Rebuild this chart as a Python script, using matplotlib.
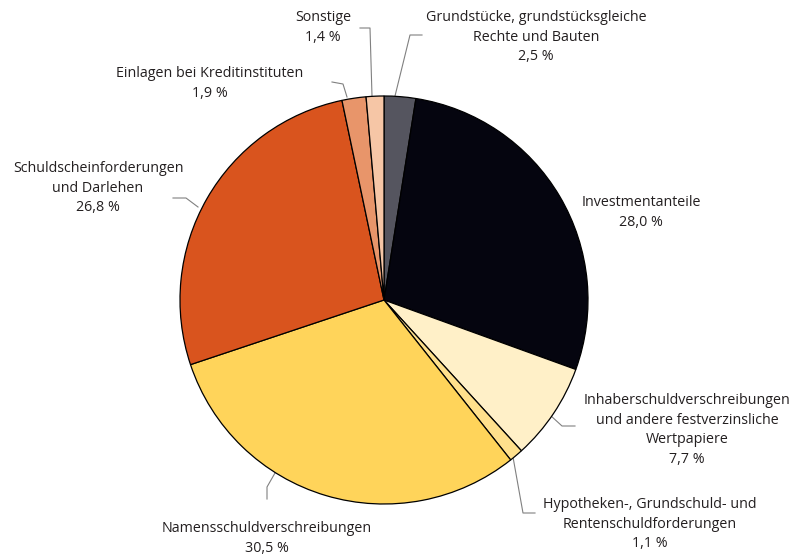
import matplotlib.pyplot as plt

plt.rcParams['font.family'] = ['Open Sans', 'DejaVu Sans']

# Anteile der Kapitalanlagen (%)
labels = ['Grundstücke, grundstücksgleiche\nRechte und Bauten',
          'Investmentanteile',
          'Inhaberschuldverschreibungen\nund andere festverzinsliche\nWertpapiere',
          'Hypotheken-, Grundschuld- und\nRentenschuldforderungen',
          'Namensschuldverschreibungen',
          'Schuldscheinforderungen\nund Darlehen',
          'Einlagen bei Kreditinstituten',
          'Sonstige']
values = [2.5, 28.0, 7.7, 1.1, 30.5, 26.8, 1.9, 1.4]
colors = ['#55555f', '#05050f', '#fff0c8', '#ffe08c', '#ffd45a', '#d9541e', '#e8956a', '#f6c6a6']

W, H = 798, 555
cx, cy, r = 384, 300, 204

# Textposition (Mitte der ersten Zeile) und Hinweislinien, in Pixeln
text_pos = [(536, 17), (641, 202), (687, 400), (650, 504), (267, 528), (98, 168), (210, 73), (323, 17)]
leaders = [[(422, 35), (410, 35), (395, 96)],
           None,
           [(575, 426), (562, 426), (550, 415)],
           [(535, 513), (523, 513), (513, 457)],
           [(267, 499), (267, 487), (275, 473)],
           [(173, 198), (186, 198), (198, 207)],
           [(332, 82), (343, 84), (347, 97)],
           [(360, 28), (370, 28), (372, 96)]]

fig = plt.figure(figsize=(W / 100, H / 100), dpi=100)
ax = fig.add_axes([0, 0, 1, 1])

ax.pie(values, colors=colors, startangle=90, counterclock=False,
       center=(cx, H - cy), radius=r,
       wedgeprops=dict(edgecolor='black', linewidth=0.9))

for i, lab in enumerate(labels):
    pct = f'{values[i]:.1f}'.replace('.', ',') + ' %'
    tx, ty = text_pos[i]
    ax.text(tx, H - ty + 7, lab + '\n' + pct, ha='center', va='top', fontsize=10.3,
            color='#231f20', linespacing=1.43)
    if leaders[i] is not None:
        pts = leaders[i]
        ax.plot([p[0] for p in pts], [H - p[1] for p in pts],
                color='#808080', linewidth=0.8, zorder=0)

ax.set_xlim(0, W)
ax.set_ylim(0, H)
ax.set_aspect('auto')
ax.axis('off')

fig.savefig('out.png', dpi=100)
